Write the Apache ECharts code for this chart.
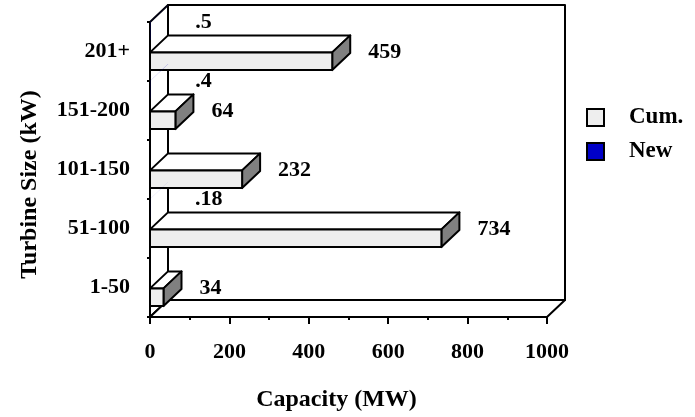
<!DOCTYPE html>
<html>
<head>
<meta charset="utf-8">
<script src="https://cdn.jsdelivr.net/npm/echarts@6/dist/echarts.min.js"></script>
<style>
  html, body { margin: 0; padding: 0; background: #fff; }
  #chart { width: 695px; height: 417px; }
</style>
</head>
<body>
<div id="chart"></div>
<script>
// Installed capacity by turbine size class
const categories = ['1-50', '51-100', '101-150', '151-200', '201+'];
const cumValues = [34, 734, 232, 64, 459];
const newValues = [null, 0.18, null, 0.4, 0.5];
const xTicks = [0, 200, 400, 600, 800, 1000];

const FONT = '"Liberation Serif", "Times New Roman", serif';
const DX = 18, DY = -17;           // oblique depth of the box
const STROKE = '#000';

function fmtValue(v) {
  return String(v).replace(/^0\./, '.');
}

// Back wall, left wall and floor of the plot box
function renderFrame(params) {
  const c = params.coordSys;
  const x = c.x, y = c.y, w = c.width, h = c.height;
  const st = { fill: '#fff', stroke: STROKE, lineWidth: 2, lineJoin: 'round' };
  return {
    type: 'group',
    children: [
      { type: 'polygon', shape: { points: [[x + DX, y + DY], [x + w + DX, y + DY], [x + w + DX, y + h + DY], [x + DX, y + h + DY]] }, style: st },
      { type: 'polygon', shape: { points: [[x, y], [x + DX, y + DY], [x + DX, y + h + DY], [x, y + h]] }, style: st },
      { type: 'polygon', shape: { points: [[x, y + h], [x + DX, y + h + DY], [x + w + DX, y + h + DY], [x + w, y + h]] }, style: st }
    ]
  };
}

// Oblique 3D bar: front face, top face, end face and a value label
function makeBarRenderer(opts) {
  return function (params, api) {
    const val = api.value(0);
    const cat = api.value(1);
    const start = api.coord([0, cat]);
    const end = api.coord([val, cat]);
    const band = api.size([0, 1])[1];
    const top = start[1] - band / 2;
    const y1 = top + band * opts.offset;
    const y2 = y1 + band * 0.3;
    const x0 = start[0], x1 = end[0];
    const faceStroke = opts.outline ? { stroke: STROKE, lineWidth: 2, lineJoin: 'round' } : { lineWidth: 0 };
    const children = [
      { type: 'polygon', shape: { points: [[x0, y1], [x0 + DX, y1 + DY], [x1 + DX, y1 + DY], [x1, y1]] },
        style: Object.assign({ fill: opts.topColor }, faceStroke) }
    ];
    if (opts.drawEnd) {
      children.push(
        { type: 'polygon', shape: { points: [[x1, y1], [x1 + DX, y1 + DY], [x1 + DX, y2 + DY], [x1, y2]] },
          style: Object.assign({ fill: opts.sideColor }, faceStroke) }
      );
    }
    children.push(
      { type: 'rect', shape: { x: x0, y: y1, width: x1 - x0, height: y2 - y1 },
        style: Object.assign({ fill: opts.frontColor }, faceStroke) },
      {
        type: 'text',
        style: {
          text: fmtValue(val),
          x: x1 + DX / 2 + opts.labelGap,
          y: (y1 + y2) / 2 + DY / 2,
          align: 'left',
          verticalAlign: 'middle',
          font: 'bold 22px ' + FONT,
          fill: '#000'
        }
      }
    );
    return { type: 'group', children: children };
  };
}

const cumData = cumValues.map((v, i) => [v, i]);
const newData = newValues.map((v, i) => [v, i]).filter(d => d[0] !== null);

const chart = echarts.init(document.getElementById('chart'), null, { renderer: 'canvas' });
chart.setOption({
  backgroundColor: '#fff',
  animation: false,
  textStyle: { fontFamily: FONT },
  grid: { left: 150, right: 148, top: 22, bottom: 95 },
  legend: {
    data: ['Cum.', 'New'],
    orient: 'vertical',
    left: 586,
    top: 106,
    padding: 0,
    icon: 'rect',
    itemWidth: 17,
    itemHeight: 17,
    itemGap: 11,
    itemStyle: { borderColor: '#000', borderWidth: 2 },
    textStyle: { fontFamily: FONT, fontWeight: 'bold', fontSize: 23, color: '#000', padding: [0, 0, 0, 20] },
    selectedMode: false
  },
  xAxis: {
    type: 'value',
    min: xTicks[0],
    max: xTicks[xTicks.length - 1],
    interval: xTicks[1] - xTicks[0],
    name: 'Capacity (MW)',
    nameLocation: 'middle',
    nameGap: 71,
    nameTextStyle: { fontFamily: FONT, fontWeight: 'bold', fontSize: 24, color: '#000', padding: [0, 24, 0, 0] },
    axisLine: { show: true, lineStyle: { color: '#000', width: 2 } },
    axisTick: { show: true, length: 7, lineStyle: { color: '#000', width: 2 } },
    minorTick: { show: true, splitNumber: 2, length: 3, lineStyle: { color: '#000', width: 2 } },
    splitLine: { show: false },
    axisLabel: { margin: 24, fontFamily: FONT, fontWeight: 'bold', fontSize: 22, color: '#000',
      formatter: v => String(v) }
  },
  yAxis: {
    type: 'category',
    data: categories,
    name: 'Turbine Size (kW)',
    nameLocation: 'middle',
    nameGap: 108,
    nameTextStyle: { fontFamily: FONT, fontWeight: 'bold', fontSize: 24, color: '#000', padding: [0, 30, 0, 0] },
    axisLine: { show: true, lineStyle: { color: '#000', width: 2 } },
    axisTick: { show: true, length: 3, lineStyle: { color: '#000', width: 2 } },
    axisLabel: { margin: 20, fontFamily: FONT, fontWeight: 'bold', fontSize: 22, color: '#000', padding: [8, 0, 0, 0] }
  },
  series: [
    {
      name: 'frame',
      type: 'custom',
      z: 1,
      silent: true,
      renderItem: renderFrame,
      data: [[0, 0]],
      encode: { x: 0, y: 1 }
    },
    {
      name: 'Cum.',
      type: 'custom',
      z: 3,
      itemStyle: { color: '#eeeeee' },
      renderItem: makeBarRenderer({ offset: 0.515, drawEnd: true, outline: true,
        frontColor: '#eeeeee', topColor: '#ffffff', sideColor: '#808080', labelGap: 27 }),
      data: cumData,
      encode: { x: 0, y: 1 }
    },
    {
      name: 'New',
      type: 'custom',
      z: 3,
      itemStyle: { color: '#0000c8' },
      renderItem: makeBarRenderer({ offset: 0, drawEnd: false, outline: false,
        frontColor: '#0000c8', topColor: '#0000c8', sideColor: '#000080', labelGap: 36 }),
      data: newData,
      encode: { x: 0, y: 1 }
    }
  ]
});
</script>
</body>
</html>
